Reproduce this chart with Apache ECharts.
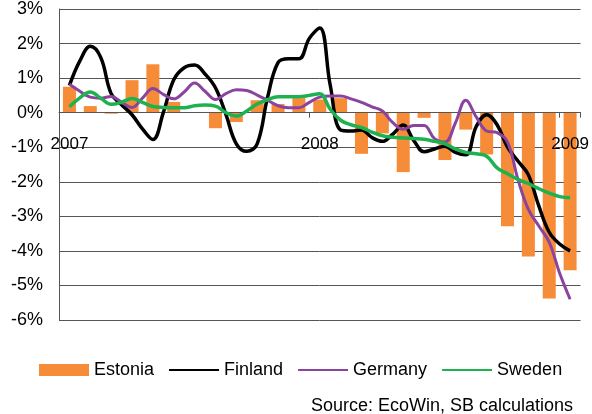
<!DOCTYPE html>
<html>
<head>
<meta charset="utf-8">
<script src="https://cdn.jsdelivr.net/npm/echarts@6/dist/echarts.min.js"></script>
<style>
  html, body { margin: 0; padding: 0; background: #fff; }
  #chart { width: 592px; height: 414px; }
</style>
</head>
<body>
<div id="chart"></div>
<script>
// monthly categories, Jan 2007 .. Jan 2009
var months = ['2007','Feb 07','Mar 07','Apr 07','May 07','Jun 07','Jul 07','Aug 07','Sep 07','Oct 07','Nov 07','Dec 07',
    '2008','Feb 08','Mar 08','Apr 08','May 08','Jun 08','Jul 08','Aug 08','Sep 08','Oct 08','Nov 08','Dec 08','2009'];

// Estonia, monthly bars (%)
var estonia = [0.75, 0.19, -0.03, 0.94, 1.4, 0.31, 0, -0.45, -0.27, 0.36, 0.25, 0.42,
    0.38, 0.42, -1.19, -0.6, -1.72, -0.15, -1.37, -0.49, -1.21, -3.29, -4.16, -5.38, -4.56];

// lines read every half month, starting mid-Jan 2007
var step = 0.5;
var finland = [0.79, 1.5, 1.92, 1.6, 0.55, 0.23, -0.06, -0.47, -0.78, 0.0,
    0.95, 1.3, 1.38, 1.12, 0.72, -0.05, -0.9, -1.12, -0.9, 0.45,
    1.45, 1.56, 1.56, 2.15, 2.45, 0.8, -0.5, -0.53, -0.5, -0.72,
    -0.83, -0.62, -0.36, -0.8, -1.13, -1.05, -0.97, -1.15, -1.22, -0.4,
    -0.06, -0.35, -1.0, -1.4, -1.8, -2.7, -3.46, -3.8, -4.0];
var germany = [0.82, 0.62, 0.45, 0.42, 0.47, 0.3, 0.15, 0.42, 0.7, 0.53,
    0.4, 0.6, 0.86, 0.62, 0.38, 0.55, 0.66, 0.64, 0.51, 0.36,
    0.2, 0.14, 0.14, 0.3, 0.45, 0.48, 0.48, 0.4, 0.3, 0.17,
    0.05, -0.29, -0.48, -0.37, -0.37, -0.75, -0.85, -0.3, 0.36, -0.12,
    -0.53, -0.58, -0.85, -1.93, -2.8, -3.28, -3.75, -4.65, -5.4];
var sweden = [0.17, 0.43, 0.6, 0.42, 0.24, 0.3, 0.41, 0.3, 0.18, 0.15,
    0.14, 0.14, 0.2, 0.22, 0.19, 0.0, -0.1, 0.05, 0.25, 0.38,
    0.46, 0.46, 0.46, 0.5, 0.55, 0.1, -0.22, -0.35, -0.43, -0.56,
    -0.67, -0.71, -0.73, -0.75, -0.77, -0.83, -0.9, -1.05, -1.15, -1.19,
    -1.26, -1.6, -1.77, -1.93, -2.05, -2.2, -2.33, -2.43, -2.46];

var yMin = -6, yMax = 3;

function pairs(arr) {
    return arr.map(function (v, i) { return [i * step, v]; });
}
function yearOnly(index) {
    return index % 12 === 0;
}

var font = 'Liberation Sans, Arial, sans-serif';
var gridTop = 9, gridBottom = 94, chartH = 414;
// move the month axis up to the 0% line (onZero does not kick in here)
var plotH = chartH - gridTop - gridBottom;
var zeroOffset = -plotH * (0 - yMin) / (yMax - yMin);
// line items in the legend: plain line, no marker
var noMarker = { opacity: 0 };

var chart = echarts.init(document.getElementById('chart'));
chart.setOption({
    animation: false,
    color: ['#F68B38', '#000000', '#8A44A0', '#1DB150'],
    title: {
        text: 'Source: EcoWin, SB calculations',
        right: 19,
        top: 397,
        padding: 0,
        textStyle: { fontSize: 18, fontWeight: 'normal', color: '#000', fontFamily: font }
    },
    legend: {
        left: 39,
        top: 361,
        padding: 0,
        itemWidth: 50,
        itemHeight: 12,
        itemGap: 14,
        textStyle: { fontSize: 18, color: '#000', fontFamily: font },
        data: [
            { name: 'Estonia', icon: 'rect' },
            { name: 'Finland', itemStyle: noMarker },
            { name: 'Germany', itemStyle: noMarker },
            { name: 'Sweden', itemStyle: noMarker }
        ]
    },
    grid: { left: 59, right: 11, top: gridTop, bottom: gridBottom },
    xAxis: [
        {
            type: 'category',
            data: months,
            boundaryGap: true,
            offset: zeroOffset,
            z: 3,
            axisLine: { onZero: false, lineStyle: { color: '#555', width: 1 } },
            axisTick: { show: true, length: 5, interval: yearOnly, lineStyle: { color: '#555' } },
            axisLabel: {
                interval: yearOnly,
                margin: 23,
                fontSize: 17,
                color: '#000',
                fontFamily: font
            },
            splitLine: { show: false }
        },
        {
            type: 'value',
            min: -0.5,
            max: 24.5,
            show: false,
            axisLine: { onZero: false }
        }
    ],
    yAxis: {
        type: 'value',
        min: yMin,
        max: yMax,
        interval: 1,
        axisLine: { show: true, onZero: false, lineStyle: { color: '#555' } },
        axisTick: { show: false },
        axisLabel: { formatter: '{value}%', fontSize: 18, color: '#000', margin: 16, fontFamily: font },
        splitLine: { lineStyle: { color: '#555', width: 1 } }
    },
    series: [
        {
            name: 'Estonia',
            type: 'bar',
            xAxisIndex: 0,
            barWidth: 13,
            data: estonia
        },
        {
            name: 'Finland',
            type: 'line',
            xAxisIndex: 1,
            smooth: 0.4,
            symbol: 'none',
            lineStyle: { width: 3.5 },
            data: pairs(finland)
        },
        {
            name: 'Germany',
            type: 'line',
            xAxisIndex: 1,
            smooth: 0.4,
            symbol: 'none',
            lineStyle: { width: 3 },
            data: pairs(germany)
        },
        {
            name: 'Sweden',
            type: 'line',
            xAxisIndex: 1,
            smooth: 0.4,
            symbol: 'none',
            lineStyle: { width: 3.5 },
            data: pairs(sweden)
        }
    ]
});
</script>
</body>
</html>
